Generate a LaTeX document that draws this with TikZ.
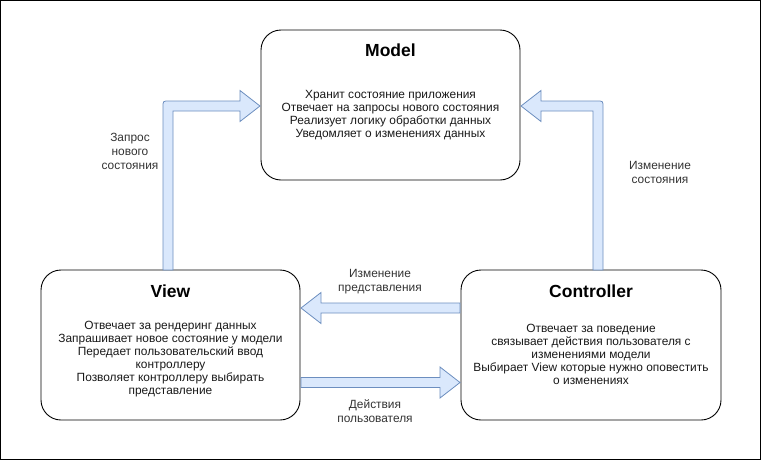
\documentclass[tikz,border=0pt]{standalone}
\usepackage{fontspec}
\setmainfont{Liberation Sans}
\definecolor{arrfill}{HTML}{DAE8FC}
\definecolor{arrdraw}{HTML}{6C8EBF}
\begin{document}
\begin{tikzpicture}[x=1pt,y=-1pt,
  box/.style={draw=black,line width=0.9pt,rounded corners=20pt,minimum width=#1,minimum height=150pt,inner sep=0pt},
  title/.style={font=\fontsize{17.5}{20}\selectfont\bfseries},
  body/.style={font=\fontsize{11.9}{13}\selectfont,align=center,inner sep=0pt,text=black!90},
  lbl/.style={font=\fontsize{11.9}{14}\selectfont,align=center,inner sep=0pt,text=black!80},
  flex/.style={fill=arrfill,draw=arrdraw,line width=0.8pt,line join=miter}]
\useasboundingbox (0,0) rectangle (761,461);
\draw[line width=0.9pt] (0.5,0.5) rectangle (760,459.5);

% boxes
\node[box=259pt] (model) at (390.5,105) {};
\node[box=259pt] (view) at (170.5,345) {};
\node[box=260pt] (ctrl) at (591,345) {};

\node[title] (mt) at (390.5,50) {Model};
\node[body] (mb) at (390.5,115) {Хранит состояние приложения\\Отвечает на запросы нового состояния\\Реализует логику обработки данных\\Уведомляет о изменениях данных};

\node[title] (vt) at (170.5,291) {View};
\node[body] (vb) at (170.5,359.5) {Отвечает за рендеринг данных\\Запрашивает новое состояние у модели\\Передает пользовательский ввод\\контроллеру\\Позволяет контроллеру выбирать\\представление};

\node[title] (ct) at (591,291) {Controller};
\node[body] (cb) at (591,354) {Отвечает за поведение\\связывает действия пользователя с\\изменениями модели\\Выбирает View которые нужно оповестить\\о изменениях};

% arrows
\draw[flex] (163,270) -- (163,107) .. controls (163,101) .. (169,101) -- (240,101) -- (240,90.5) -- (260,106) -- (240,121.5) -- (240,111) -- (173,111) -- (173,270) -- cycle;
\draw[flex] (593,270) -- (593,111) -- (541,111) -- (541,121.5) -- (521,106) -- (541,90.5) -- (541,101) -- (597,101) .. controls (603,101) .. (603,107) -- (603,270) -- cycle;
\draw[flex] (460,303) -- (321,303) -- (321,292.5) -- (301,308) -- (321,323.5) -- (321,313) -- (460,313) -- cycle;
\draw[flex] (301,377.5) -- (440,377.5) -- (440,367) -- (460,382.5) -- (440,398) -- (440,387.5) -- (301,387.5) -- cycle;

% labels
\node[lbl] (l1) at (130,151) {Запрос\\нового\\состояния};
\node[lbl] (l2) at (660,172.5) {Изменение\\состояния};
\node[lbl] (l3) at (380,281.5) {Изменение\\представления};
\node[lbl] (l4) at (375,411) {Действия\\пользователя};
\end{tikzpicture}
\end{document}
